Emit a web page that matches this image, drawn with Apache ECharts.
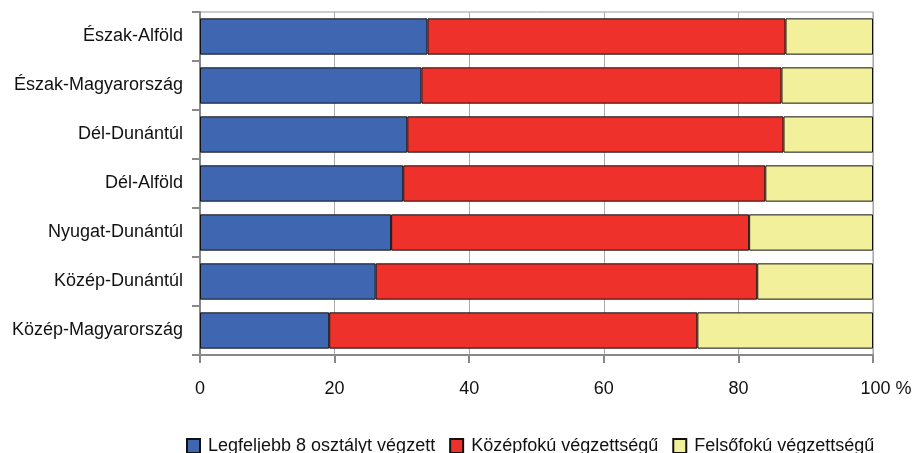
<!DOCTYPE html>
<html>
<head>
<meta charset="utf-8">
<script src="https://cdn.jsdelivr.net/npm/echarts@6/dist/echarts.min.js"></script>
<style>
  html, body { margin: 0; padding: 0; background: #fff; }
  #chart { width: 912px; height: 453px; }
</style>
</head>
<body>
<div id="chart"></div>
<script>
// Regions, top to bottom
const regions = [
  'Észak-Alföld',
  'Észak-Magyarország',
  'Dél-Dunántúl',
  'Dél-Alföld',
  'Nyugat-Dunántúl',
  'Közép-Dunántúl',
  'Közép-Magyarország'
];

// Share of population by highest education level, %
const seriesNames = ['Legfeljebb 8 osztályt végzett', 'Középfokú végzettségű', 'Felsőfokú végzettségű'];
const primary   = [33.8, 32.9, 30.8, 30.2, 28.4, 26.1, 19.2];
const secondary = [53.2, 53.5, 55.9, 53.8, 53.2, 56.7, 54.7];
const tertiary  = [13.0, 13.6, 13.3, 16.0, 18.4, 17.2, 26.1];

const xTicks = [0, 20, 40, 60, 80, 100];

const FONT = "'Liberation Sans', Arial, sans-serif";
const FS = 18;
const colors = ['#3F66B0', '#EE312A', '#F2F09B'];

const chart = echarts.init(document.getElementById('chart'), null, { renderer: 'canvas' });

const mkSeries = (name, data, color) => ({
  name: name,
  type: 'bar',
  stack: 'total',
  data: data,
  barCategoryGap: '26%',
  itemStyle: { color: color, borderColor: '#111', borderWidth: 1 },
  emphasis: { disabled: true }
});

chart.setOption({
  animation: false,
  textStyle: { fontFamily: FONT },
  grid: {
    left: 200, right: 39, top: 12, bottom: 98,
    containLabel: false,
    outerBoundsMode: 'none',
    show: true, borderColor: '#999', borderWidth: 1
  },
  xAxis: {
    type: 'value',
    min: xTicks[0],
    max: xTicks[xTicks.length - 1],
    interval: 20,
    axisLine: { show: true, lineStyle: { color: '#888', width: 2 } },
    axisTick: { show: true, length: 8, lineStyle: { color: '#888', width: 2 } },
    splitLine: { show: true, lineStyle: { color: '#aaa', width: 1 } },
    axisLabel: {
      margin: 25,
      color: '#111',
      fontSize: FS,
      fontFamily: FONT,
      formatter: function (v) {
        return v === 100 ? '{pad|}100 %' : String(v);
      },
      rich: { pad: { width: 26 } }
    }
  },
  yAxis: {
    type: 'category',
    inverse: true,
    data: regions,
    axisLine: { show: true, lineStyle: { color: '#888', width: 2 } },
    axisTick: { show: true, length: 8, lineStyle: { color: '#888', width: 2 } },
    axisLabel: { margin: 17, color: '#111', fontSize: FS, fontFamily: FONT }
  },
  legend: {
    left: 181,
    top: 432,
    width: 731,
    itemWidth: 13,
    itemHeight: 14,
    itemGap: 14,
    icon: 'rect',
    textStyle: { fontSize: FS, color: '#111', fontFamily: FONT, padding: [0, 0, 0, 3] },
    data: seriesNames
  },
  series: [
    mkSeries(seriesNames[0], primary, colors[0]),
    mkSeries(seriesNames[1], secondary, colors[1]),
    mkSeries(seriesNames[2], tertiary, colors[2])
  ]
});
</script>
</body>
</html>
